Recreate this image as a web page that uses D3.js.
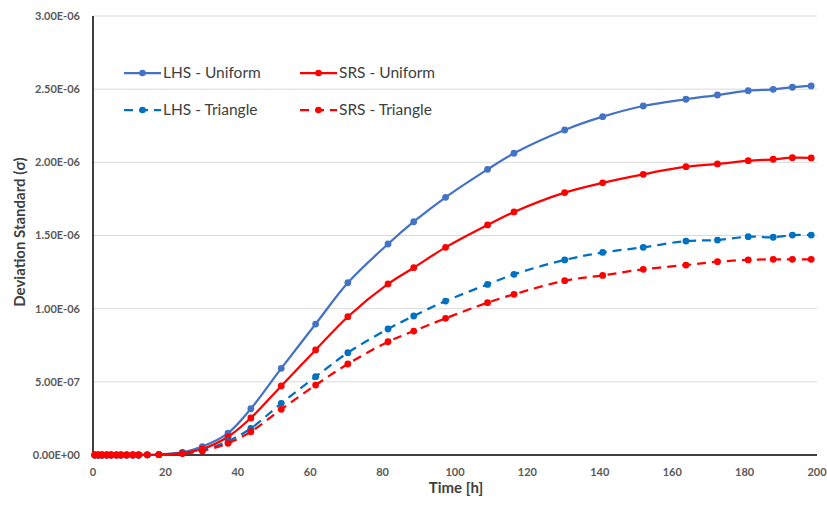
<!DOCTYPE html>
<html>
<head>
<meta charset="utf-8">
<script src="https://cdn.jsdelivr.net/npm/d3@7"></script>
<style>
  body { margin: 0; background: #fff; }
  svg { display: block; font-family: Lato, "Open Sans", sans-serif; }
</style>
</head>
<body>
<div id="chart"></div>
<script>
// time in hours
var times = [0.5, 1.5, 2.5, 3.8, 5, 6.5, 7.7, 9.3, 11, 12.6, 15, 18.2,
             24.7, 30.2, 37.3, 43.6, 52, 61.5, 70.4, 81.5, 88.6, 97.4, 109, 116.3,
             130.3, 140.8, 152, 163.8, 172.5, 181, 187.9, 193.2, 198.4];

// standard deviation, in units of 1e-6
var lhsUniform = [0, 0, 0, 0, 0, 0, 0, 0, 0, 0, 0.001, 0.003,
                  0.018, 0.057, 0.15, 0.316, 0.592, 0.895, 1.177, 1.442, 1.594, 1.761, 1.952, 2.062,
                  2.221, 2.312, 2.385, 2.431, 2.460, 2.490, 2.499, 2.513, 2.522];
var srsUniform = [0, 0, 0, 0, 0, 0, 0, 0, 0, 0, 0.001, 0.003,
                  0.015, 0.041, 0.125, 0.253, 0.472, 0.718, 0.945, 1.169, 1.280, 1.419, 1.572, 1.661,
                  1.793, 1.860, 1.918, 1.970, 1.989, 2.011, 2.021, 2.032, 2.030];
var lhsTriangle = [0, 0, 0, 0, 0, 0, 0, 0, 0, 0, 0.001, 0.002,
                   0.012, 0.032, 0.095, 0.182, 0.353, 0.535, 0.699, 0.861, 0.950, 1.052, 1.166, 1.235,
                   1.333, 1.384, 1.419, 1.462, 1.469, 1.492, 1.488, 1.503, 1.503];
var srsTriangle = [0, 0, 0, 0, 0, 0, 0, 0, 0, 0, 0.001, 0.002,
                   0.010, 0.028, 0.080, 0.159, 0.312, 0.478, 0.622, 0.774, 0.847, 0.934, 1.041, 1.098,
                   1.191, 1.227, 1.269, 1.298, 1.321, 1.333, 1.337, 1.337, 1.337];

var seriesNames = ["LHS - Uniform", "SRS - Uniform", "LHS - Triangle", "SRS - Triangle"];
var xTicks = [0, 20, 40, 60, 80, 100, 120, 140, 160, 180, 200];
var yTicks = [0, 0.5, 1, 1.5, 2, 2.5, 3];

var width = 827, height = 505;
var margin = {top: 16, right: 10, bottom: 50, left: 93};

var series = [
  {name: seriesNames[0], values: lhsUniform, color: "#4472C4", dash: null},
  {name: seriesNames[1], values: srsUniform, color: "#FF0000", dash: null},
  {name: seriesNames[2], values: lhsTriangle, color: "#0070C0", dash: "9,6"},
  {name: seriesNames[3], values: srsTriangle, color: "#FF0000", dash: "9,6"}
];

var svg = d3.select("#chart").append("svg")
    .attr("width", width)
    .attr("height", height);

var x = d3.scaleLinear().domain([0, 200]).range([margin.left, 817]);
var y = d3.scaleLinear().domain([0, 3]).range([455, margin.top]);

// format like Excel: 2.50E-06
function sci(v) {
  var s = (v * 1e-6).toExponential(2).toUpperCase();
  if (v === 0) return "0.00E+00";
  return s.replace(/E([+-])(\d)$/, "E$10$2");
}

// gridlines
svg.append("g").selectAll("line")
    .data(yTicks.slice(1))
  .enter().append("line")
    .attr("x1", x(0)).attr("x2", x(200))
    .attr("y1", function(d) { return y(d); })
    .attr("y2", function(d) { return y(d); })
    .style("stroke", "#d9d9d9")
    .style("stroke-width", 1);

// y tick labels
svg.append("g").selectAll("text")
    .data(yTicks)
  .enter().append("text")
    .attr("x", 80)
    .attr("y", function(d) { return y(d); })
    .attr("dy", "0.35em")
    .attr("text-anchor", "end")
    .style("font-size", "11px")
    .style("font-weight", "bold")
    .style("fill", "#595959")
    .text(sci);

// x tick labels
svg.append("g").selectAll("text")
    .data(xTicks)
  .enter().append("text")
    .attr("x", function(d) { return x(d); })
    .attr("y", 476)
    .attr("text-anchor", "middle")
    .style("font-size", "11px")
    .style("font-weight", "bold")
    .style("fill", "#595959")
    .text(function(d) { return d; });

// axes lines
svg.append("line")
    .attr("x1", x(0)).attr("x2", x(0))
    .attr("y1", y(3)).attr("y2", y(0))
    .style("stroke", "#000").style("stroke-width", 1.5);
svg.append("line")
    .attr("x1", x(0)).attr("x2", x(200))
    .attr("y1", y(0)).attr("y2", y(0))
    .style("stroke", "#000").style("stroke-width", 1.5);

// axis titles
svg.append("text")
    .attr("x", 456).attr("y", 493)
    .attr("text-anchor", "middle")
    .style("font-size", "15px")
    .style("font-weight", "bold")
    .style("fill", "#404040")
    .text("Time [h]");

svg.append("text")
    .attr("transform", "translate(25,232) rotate(-90)")
    .attr("text-anchor", "middle")
    .style("font-size", "15px")
    .style("font-weight", "bold")
    .style("fill", "#404040")
    .text("Deviation Standard (σ)");

var line = d3.line()
    .x(function(d) { return x(d[0]); })
    .y(function(d) { return y(d[1]); })
    .curve(d3.curveCatmullRom.alpha(0.5));

var g = svg.append("g").selectAll("g")
    .data(series)
  .enter().append("g");

g.append("path")
    .attr("d", function(s) { return line(d3.zip(times, s.values)); })
    .style("fill", "none")
    .style("stroke", function(s) { return s.color; })
    .style("stroke-width", 2.25)
    .style("stroke-dasharray", function(s) { return s.dash; });

g.selectAll("circle")
    .data(function(s) { return s.values.map(function(v, i) { return {t: times[i], v: v, c: s.color}; }); })
  .enter().append("circle")
    .attr("cx", function(d) { return x(d.t); })
    .attr("cy", function(d) { return y(d.v); })
    .attr("r", 3.4)
    .style("fill", function(d) { return d.c; });

// legend
var legendPos = [[124, 73], [300, 73], [124, 110], [300, 110]];
var leg = svg.append("g").selectAll("g")
    .data(series)
  .enter().append("g")
    .attr("transform", function(s, i) { return "translate(" + legendPos[i][0] + "," + legendPos[i][1] + ")"; });

leg.append("line")
    .attr("x1", 0).attr("x2", 37)
    .style("stroke", function(s) { return s.color; })
    .style("stroke-width", 2.25)
    .style("stroke-dasharray", function(s) { return s.dash; });
leg.append("circle")
    .attr("cx", 18.5)
    .attr("r", 3.3)
    .style("fill", function(s) { return s.color; });
leg.append("text")
    .attr("x", 39)
    .attr("dy", "0.35em")
    .style("font-size", "15.5px")
    .style("fill", "#404040")
    .text(function(s) { return s.name; });
</script>
</body>
</html>
